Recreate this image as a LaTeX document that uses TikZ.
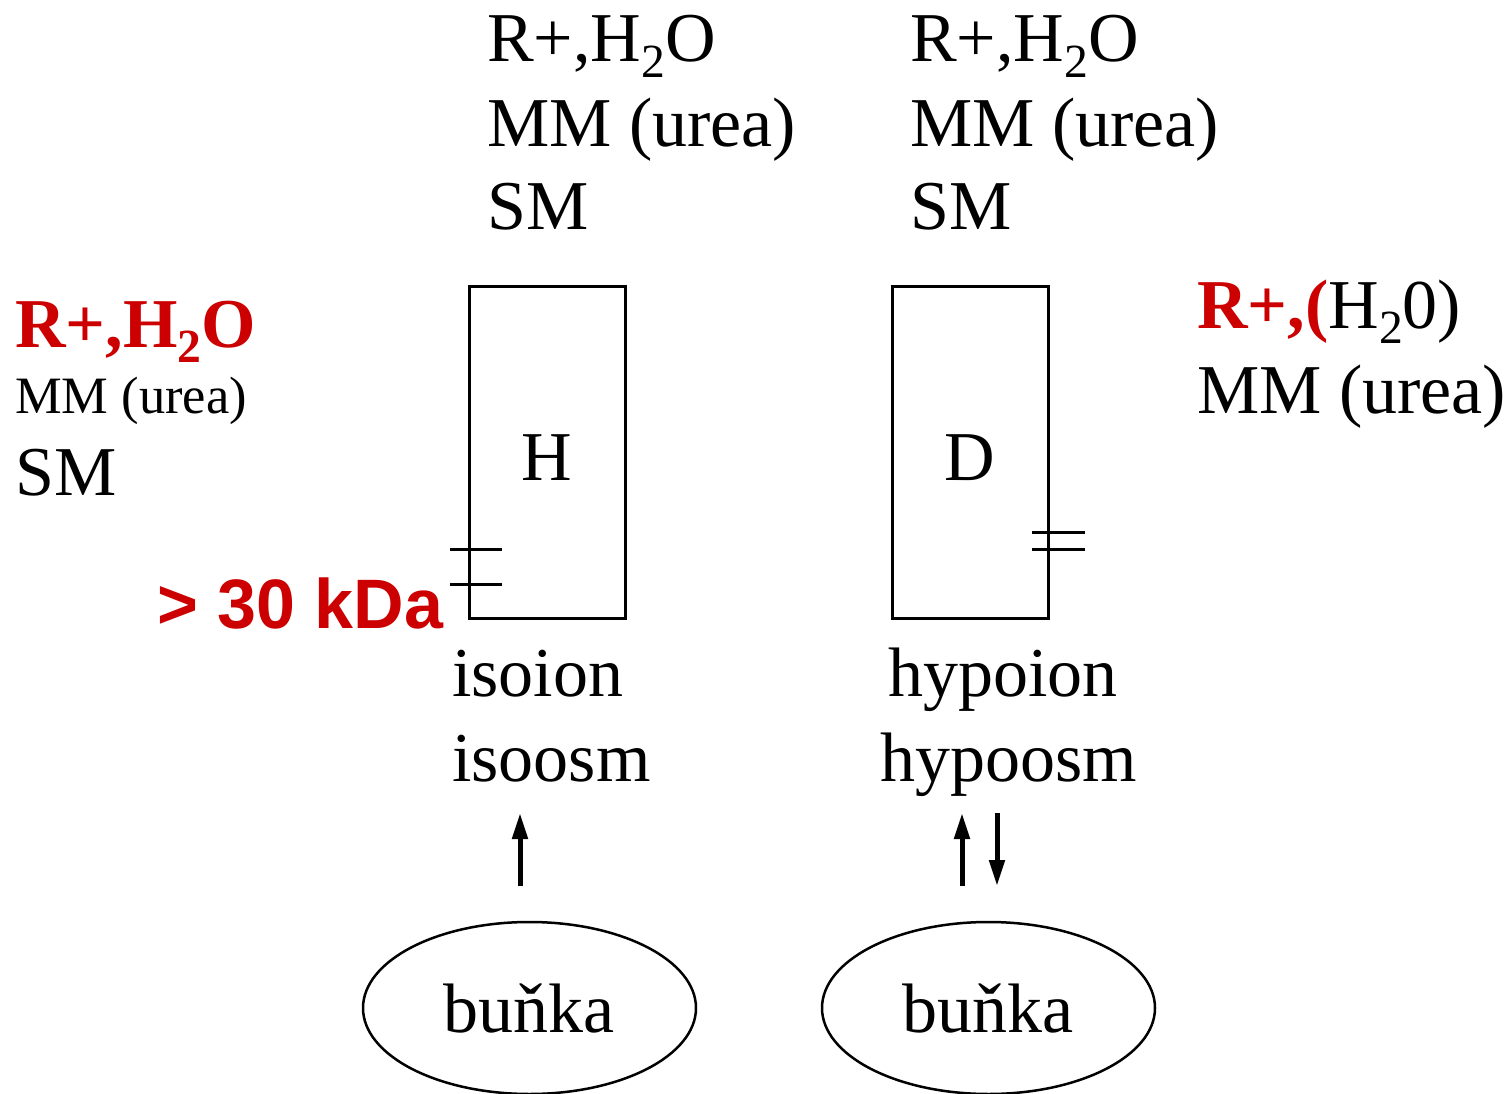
\documentclass[tikz,border=0pt]{standalone}
\usepackage{fontspec}
\setmainfont{Liberation Serif}
\newfontfamily\arialfont{Liberation Sans}
\usetikzlibrary{arrows.meta,shapes.geometric}
\definecolor{tred}{RGB}{204,0,0}
\newcommand\sbs[1]{\raisebox{-0.22em}{\scalebox{0.68}{#1}}}
\begin{document}
\begin{tikzpicture}[x=1pt,y=-1pt,
  txt/.style={inner sep=0pt,anchor=base west,font=\fontsize{70}{70}\selectfont},
  smalltxt/.style={inner sep=0pt,anchor=base west,font=\fontsize{52.5}{52.5}\selectfont},
  redb/.style={inner sep=0pt,anchor=base west,text=tred,font=\fontsize{70}{70}\selectfont\bfseries},
  kda/.style={inner sep=0pt,anchor=base west,text=tred,font=\fontsize{70}{70}\selectfont\arialfont\bfseries},
  membrane/.style={draw,line width=3pt,minimum width=156pt,minimum height=331pt,inner sep=0pt},
  tick/.style={line width=3pt},
  cell/.style={draw,ellipse,line width=2.5pt,minimum width=333pt,minimum height=172pt,inner sep=0pt,font=\fontsize{70}{70}\selectfont},
  flow/.style={line width=5pt,-{Triangle[length=26pt,width=15pt]}}]
\useasboundingbox (0,0) rectangle (1508,1094);
% top labels
\node[txt] (t1a) at (487,62) {R+,H\sbs{2}O};
\node[txt] (t1b) at (487,147) {MM (urea)};
\node[txt] (t1c) at (487,230) {SM};
\node[txt] (t2a) at (910,62) {R+,H\sbs{2}O};
\node[txt] (t2b) at (910,147) {MM (urea)};
\node[txt] (t2c) at (910,230) {SM};
% left labels
\node[redb] (l1) at (15,347) {R+,H\sbs{2}O};
\node[smalltxt] (l2) at (15,413) {MM (urea)};
\node[txt] (l3) at (15,495) {SM};
\node[kda] (kda) at (157,628) {> 30 kDa};
% right labels
\node[txt] (r1) at (1197,328) {{\color{tred}\bfseries R+,(}H\sbs{2}0)};
\node[txt] (r2) at (1197,413) {MM (urea)};
% boxes
\node[membrane] (boxH) at (547,452.5) {};
\node[membrane] (boxD) at (970,452.5) {};
\node[txt,anchor=base] (hl) at (547,480) {H};
\node[txt,anchor=base] (dl) at (970,480) {D};
\draw[tick] (450,549) -- (502,549);
\draw[tick] (450,584) -- (502,584);
\draw[tick] (1032,532) -- (1085,532);
\draw[tick] (1032,549) -- (1085,549);
% bottom labels
\node[txt] (b1) at (452,696) {isoion};
\node[txt] (b2) at (452,781) {isoosm};
\node[txt] (b3) at (888,696) {hypoion};
\node[txt] (b4) at (880,781) {hypoosm};
% cells
\node[cell] (cellH) at (529.5,1008) {buňka};
\node[cell] (cellD) at (988.5,1008) {buňka};
% arrows
\coordinate (a1s) at (520,886);
\coordinate (a1e) at (520,813);
\coordinate (a2s) at (962,886);
\coordinate (a2e) at (962,813);
\coordinate (a3s) at (997,813);
\coordinate (a3e) at (997,886);
\draw[flow] (a1s) -- (a1e);
\draw[flow] (a2s) -- (a2e);
\draw[flow] (a3s) -- (a3e);
\end{tikzpicture}
\end{document}
